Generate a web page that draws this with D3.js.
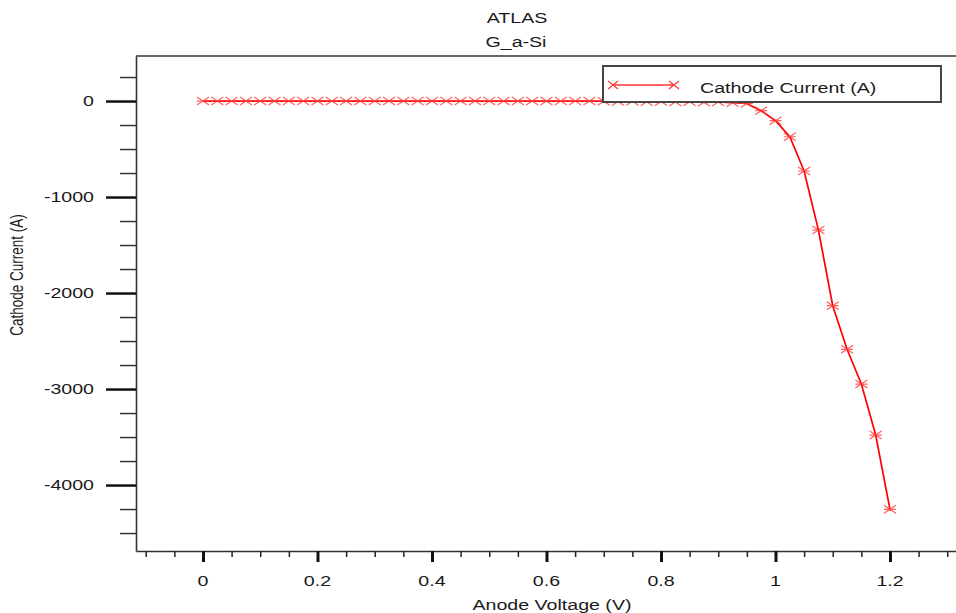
<!DOCTYPE html>
<html>
<head>
<meta charset="utf-8">
<script src="https://cdn.jsdelivr.net/npm/d3@7"></script>
<style>
  html, body { margin: 0; padding: 0; background: #fff; }
  svg { display: block; }
  text { font-family: "Liberation Sans", Arial, Helvetica, sans-serif; fill: #1a1a1a; }
</style>
</head>
<body>
<svg id="chart" width="956" height="613"></svg>
<script>
// ---- data ----
const titleLines = ["ATLAS", "G_a-Si"];
const xAxisTitle = "Anode Voltage (V)";
const yAxisTitle = "Cathode Current (A)";
const seriesName = "Cathode Current (A)";

const anodeVoltage = [
  0, 0.025, 0.05, 0.075, 0.1, 0.125, 0.15, 0.175, 0.2, 0.225,
  0.25, 0.275, 0.3, 0.325, 0.35, 0.375, 0.4, 0.425, 0.45, 0.475,
  0.5, 0.525, 0.55, 0.575, 0.6, 0.625, 0.65, 0.675, 0.7, 0.725,
  0.75, 0.775, 0.8, 0.825, 0.85, 0.875, 0.9, 0.925, 0.95, 0.975,
  1.0, 1.025, 1.05, 1.075, 1.1, 1.125, 1.15, 1.175, 1.2
];
const cathodeCurrent = [
  0, 0, 0, 0, 0, 0, 0, 0, 0, 0,
  0, 0, 0, 0, 0, 0, 0, 0, 0, 0,
  0, 0, 0, 0, 0, 0, 0, 0, -2, -5,
  -3, -8, -4, -10, -7, -14, -10, -18, -26, -101,
  -205, -372, -729, -1344, -2132, -2586, -2948, -3479, -4253
];

const xMajorTicks = [0, 0.2, 0.4, 0.6, 0.8, 1, 1.2];
const xTickLabels = ["0", "0.2", "0.4", "0.6", "0.8", "1", "1.2"];
const xMinorTicks = [-0.1, -0.05, 0.05, 0.1, 0.15, 0.25, 0.3, 0.35, 0.45, 0.5, 0.55,
  0.65, 0.7, 0.75, 0.85, 0.9, 0.95, 1.05, 1.1, 1.15, 1.25, 1.3];
const yMajorTicks = [0, -1000, -2000, -3000, -4000];
const yTickLabels = ["0", "-1000", "-2000", "-3000", "-4000"];
const yMinorTicks = [250, -250, -500, -750, -1250, -1500, -1750, -2250, -2500, -2750,
  -3250, -3500, -3750, -4250, -4500];

// ---- layout ----
const plotLeft = 136, plotRight = 956, plotTop = 56, plotBottom = 551;
const stretch = 1.4;
const axisColor = "#333";
const red = "#ff0000";

const svg = d3.select("#chart");

const x = d3.scaleLinear().domain([-0.117, 1.3153]).range([plotLeft, plotRight]);
const y = d3.scaleLinear().domain([-4687, 469]).range([plotBottom, plotTop]);

function sText(txt, tx, ty, anchor, size) {
  return svg.append("text")
    .attr("transform", `translate(${tx},${ty}) scale(${stretch},1)`)
    .attr("text-anchor", anchor)
    .attr("font-size", size + "px")
    .text(txt);
}

// titles
sText(titleLines[0], 517, 23, "middle", 14);
sText(titleLines[1], 516, 47, "middle", 14);

// frame: top line
svg.append("line").attr("x1", plotLeft).attr("x2", plotRight).attr("y1", plotTop).attr("y2", plotTop)
  .attr("stroke", axisColor).attr("stroke-width", 1.6);

// x axis (major)
const xAxisMajor = d3.axisBottom(x).tickValues(xMajorTicks)
  .tickSize(11).tickSizeOuter(0).tickFormat("");
const gx = svg.append("g").attr("transform", `translate(0,${plotBottom})`).call(xAxisMajor);
gx.select(".domain").attr("stroke", axisColor).attr("stroke-width", 1.6);
gx.selectAll(".tick line").attr("stroke", "#111").attr("stroke-width", 3);
const xAxisMinor = d3.axisBottom(x).tickValues(xMinorTicks).tickSize(6).tickSizeOuter(0).tickFormat("");
const gxm = svg.append("g").attr("transform", `translate(0,${plotBottom})`).call(xAxisMinor);
gxm.select(".domain").remove();
gxm.selectAll(".tick line").attr("stroke", "#222").attr("stroke-width", 1.5);
xMajorTicks.forEach((v, i) => sText(xTickLabels[i], x(v), 586, "middle", 14));

// y axis
const yAxisMajor = d3.axisLeft(y).tickValues(yMajorTicks).tickSize(30).tickSizeOuter(0).tickFormat("");
const gy = svg.append("g").attr("transform", `translate(${plotLeft},0)`).call(yAxisMajor);
gy.select(".domain").attr("stroke", axisColor).attr("stroke-width", 1.6);
gy.selectAll(".tick line").attr("stroke", "#111").attr("stroke-width", 2.5);
const yAxisMinor = d3.axisLeft(y).tickValues(yMinorTicks).tickSize(16).tickSizeOuter(0).tickFormat("");
const gym = svg.append("g").attr("transform", `translate(${plotLeft},0)`).call(yAxisMinor);
gym.select(".domain").remove();
gym.selectAll(".tick line").attr("stroke", "#333").attr("stroke-width", 1.5);
yMajorTicks.forEach((v, i) => sText(yTickLabels[i], 94, y(v) + 5, "end", 14));

// axis titles
sText(xAxisTitle, 552, 610, "middle", 14);
svg.append("text")
  .attr("transform", `translate(23,275) rotate(-90) scale(1,1.3)`)
  .attr("text-anchor", "middle")
  .attr("font-size", "13.5px")
  .text(yAxisTitle);

// data
const pts = anodeVoltage.map((v, i) => [v, cathodeCurrent[i]]);
const lineGen = d3.line().x(d => x(d[0])).y(d => y(d[1]));
svg.append("path").datum(pts).attr("d", lineGen)
  .attr("fill", "none").attr("stroke", red).attr("stroke-width", 1.7);

const markerPath = "M-6,-4L6,4M-6,4L6,-4M-6,0L6,0";
const legendMarker = "M-5,-4L5,4M-5,4L5,-4";
svg.append("g").selectAll("path").data(pts).join("path")
  .attr("transform", d => `translate(${x(d[0])},${y(d[1])})`)
  .attr("d", markerPath)
  .attr("fill", "none").attr("stroke", "#ff3a3a").attr("stroke-width", 1.2).attr("opacity", 0.8);

// legend
svg.append("rect").attr("x", 603).attr("y", 66).attr("width", 338).attr("height", 36)
  .attr("fill", "#fff").attr("stroke", "#444").attr("stroke-width", 2);
svg.append("line").attr("x1", 613).attr("x2", 674).attr("y1", 85).attr("y2", 85)
  .attr("stroke", red).attr("stroke-width", 1.4).attr("opacity", 0.8);
[613, 674].forEach(px => svg.append("path").attr("transform", `translate(${px},85)`)
  .attr("d", legendMarker).attr("fill", "none").attr("stroke", "#ff3a3a").attr("stroke-width", 1.3));
sText(seriesName, 700, 93, "start", 14);
</script>
</body>
</html>
